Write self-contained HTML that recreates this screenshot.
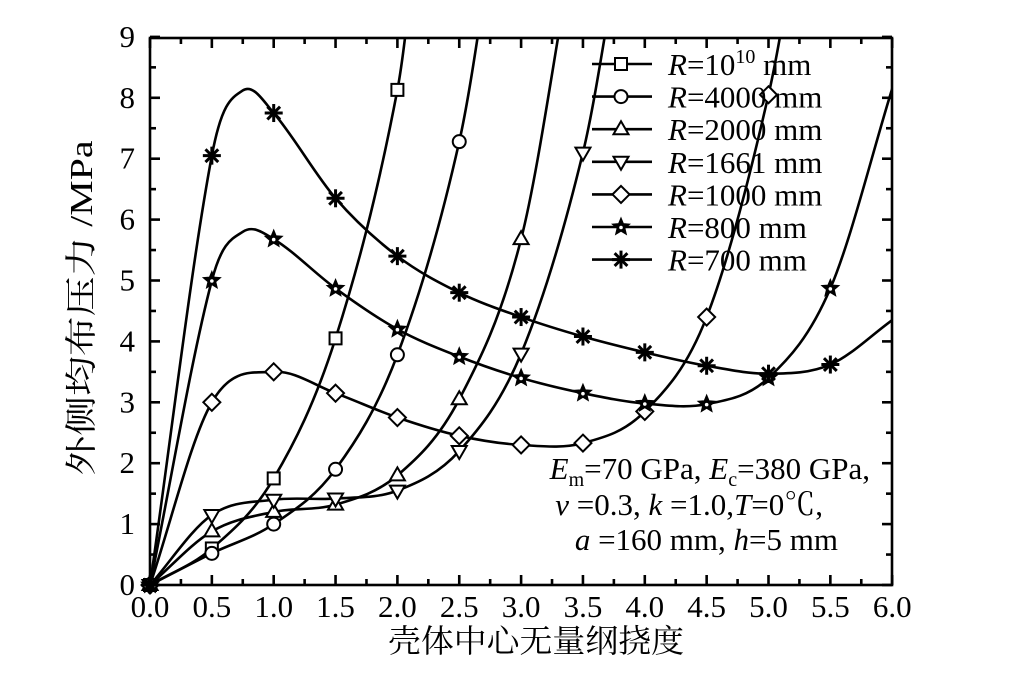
<!DOCTYPE html>
<html><head><meta charset="utf-8"><style>
html,body{margin:0;padding:0;background:#fff;}
svg{display:block;font-family:"Liberation Serif","Noto Serif CJK SC",serif;}
</style></head><body>
<svg id="s" width="1026" height="689" viewBox="0 0 1026 689" xmlns="http://www.w3.org/2000/svg">
<defs><clipPath id="c"><rect x="150" y="38" width="742" height="548"/></clipPath></defs>
<g id="curves" clip-path="url(#c)" fill="none" stroke="#000" stroke-width="2.6"></g>
<g id="marks" fill="#fff" stroke="#000" stroke-width="2"></g>
<g id="axes" stroke="#000" stroke-width="2.6" fill="none"></g>
<g id="labels" font-size="31" fill="#000"></g>
<g fill="#000">
<text x="870" y="479" font-size="31" text-anchor="end"><tspan font-style="italic">E</tspan><tspan font-size="20" dy="7">m</tspan><tspan dy="-7">=70 GPa, </tspan><tspan font-style="italic">E</tspan><tspan font-size="20" dy="7">c</tspan><tspan dy="-7">=380 GPa,</tspan></text>
<text x="823" y="515" font-size="31" text-anchor="end"><tspan font-style="italic">ν</tspan> =0.3, <tspan font-style="italic">k</tspan> =1.0,<tspan font-style="italic">T</tspan>=0℃,</text>
<text x="838" y="550" font-size="31" text-anchor="end"><tspan font-style="italic">a</tspan> =160 mm, <tspan font-style="italic">h</tspan>=5 mm</text>
<text x="388" y="652" font-size="32" textLength="296" lengthAdjust="spacingAndGlyphs" font-family="Noto Serif CJK SC, serif">壳体中心无量纲挠度</text>
<text transform="translate(92,308) rotate(-90)" text-anchor="middle" font-size="32" textLength="335" lengthAdjust="spacingAndGlyphs"><tspan font-family="Noto Serif CJK SC, serif">外侧均布压力</tspan> /MPa</text>
</g>
<g id="legend" font-size="31"></g>
</svg>
<script>
const NS="http://www.w3.org/2000/svg";
const X=x=>150+123.7*x, Y=y=>585-60.9*y;
function el(t,a,p){const e=document.createElementNS(NS,t);for(const k in a)e.setAttribute(k,a[k]);(typeof p=='string'?document.getElementById(p):p).appendChild(e);return e;}
const S=[
['sq',[[0,0],[0.5,0.6],[1,1.75],[1.5,4.05],[2,8.13],[2.2,11.5]]],
['ci',[[0,0],[0.5,0.52],[1,1.0],[1.5,1.9],[2,3.78],[2.5,7.28],[2.8,11]]],
['tr',[[0,0],[0.5,0.88],[1,1.2],[1.5,1.32],[2,1.8],[2.5,3.05],[3,5.68],[3.4,10.2]]],
['it',[[0,0],[0.5,1.15],[1,1.4],[1.5,1.42],[2,1.55],[2.5,2.2],[3,3.8],[3.5,7.1],[3.8,10.5]]],
['di',[[0,0],[0.5,3.0],[1,3.5],[1.5,3.15],[2,2.75],[2.5,2.45],[3,2.3],[3.5,2.33],[4,2.85],[4.5,4.4],[5,8.05],[5.3,11.5]]],
['st',[[0,0],[0.5,5.0],[0.75,5.8],[1,5.68],[1.5,4.87],[2,4.2],[2.5,3.75],[3,3.4],[3.5,3.15],[4,2.98],[4.5,2.97],[5,3.4],[5.5,4.87],[6,8.15]]],
['as',[[0,0],[0.5,7.05],[0.75,8.12],[1,7.75],[1.5,6.35],[2,5.4],[2.5,4.8],[3,4.4],[3.5,4.08],[4,3.82],[4.5,3.6],[5,3.47],[5.5,3.62],[6,4.35]]]
];
function path(pts){const p=pts.map(q=>[X(q[0]),Y(q[1])]);let d="M"+p[0];for(let i=0;i<p.length-1;i++){const p0=p[i-1]||p[i],p1=p[i],p2=p[i+1],p3=p[i+2]||p2;const h1=(p2[0]-p1[0])/(p2[0]-p0[0]||1),h2=(p2[0]-p1[0])/(p3[0]-p1[0]||1);const c1=[p1[0]+(p2[0]-p0[0])*h1/3,p1[1]+(p2[1]-p0[1])*h1/3],c2=[p2[0]-(p3[0]-p1[0])*h2/3,p2[1]-(p3[1]-p1[1])*h2/3];d+="C"+c1+" "+c2+" "+p2;}return d;}
function mark(t,x,y,g){
 if(t=='sq')el('rect',{x:x-6,y:y-6,width:12,height:12},g);
 if(t=='ci')el('circle',{cx:x,cy:y,r:6.5},g);
 if(t=='tr')el('polygon',{points:`${x},${y-8} ${x-7.5},${y+5} ${x+7.5},${y+5}`},g);
 if(t=='it')el('polygon',{points:`${x},${y+8} ${x-7.5},${y-5} ${x+7.5},${y-5}`},g);
 if(t=='di')el('polygon',{points:`${x},${y-8.5} ${x+8.5},${y} ${x},${y+8.5} ${x-8.5},${y}`},g);
 if(t=='st'){let s='';for(let i=0;i<10;i++){const r=i%2?3.8:8.5,a=-Math.PI/2+i*Math.PI/5;s+=(x+r*Math.cos(a))+','+(y+r*Math.sin(a))+' ';}el('polygon',{points:s,fill:'#000','stroke-width':1.5},g);el('circle',{cx:x,cy:y+0.5,r:1.8,fill:'#fff',stroke:'none'},g);}
 if(t=='as'){for(let i=0;i<4;i++){const a=i*Math.PI/4;el('line',{x1:x-9*Math.cos(a),y1:y-9*Math.sin(a),x2:x+9*Math.cos(a),y2:y+9*Math.sin(a),'stroke-width':3},g);}}
}
S.forEach(([t,pts])=>{el('path',{d:path(pts)},'curves');pts.forEach(q=>{if(q[1]<=9&&q[0]<5.9&&Math.abs(q[0]*2-Math.round(q[0]*2))<1e-6)mark(t,X(q[0]),Y(q[1]),'marks');});});
el('rect',{x:150,y:38,width:742,height:547},'axes');
for(let i=0;i<=24;i++){const x=X(i*0.25),L=i%2?6:10;el('line',{x1:x,y1:585,x2:x,y2:585-L},'axes');el('line',{x1:x,y1:38,x2:x,y2:38+L},'axes');}
for(let i=0;i<=18;i++){const y=Y(i*0.5),L=i%2?6:10;el('line',{x1:150,y1:y,x2:150+L,y2:y},'axes');el('line',{x1:892,y1:y,x2:892-L,y2:y},'axes');}
for(let i=0;i<=12;i++){const t=el('text',{x:X(i*0.5),y:617,'text-anchor':'middle'},'labels');t.textContent=(i*0.5).toFixed(1);}
for(let i=0;i<=9;i++){const t=el('text',{x:135,y:Y(i)+10,'text-anchor':'end'},'labels');t.textContent=i;}
const names=['10','4000','2000','1661','1000','800','700'];
S.forEach(([t],i)=>{const y=64+i*32.6;el('line',{x1:592,y1:y,x2:652,y2:y,stroke:'#000','stroke-width':2.6},'legend');const g=el('g',{fill:'#fff',stroke:'#000','stroke-width':2},'legend');mark(t,621,y,g);
 const tx=el('text',{x:668,y:y+11},'legend');
 tx.innerHTML=i==0?'<tspan font-style="italic">R</tspan>=10<tspan font-size="20" dy="-12">10</tspan><tspan dy="12"> mm</tspan>':'<tspan font-style="italic">R</tspan>='+names[i]+' mm';});
</script>
</body></html>
